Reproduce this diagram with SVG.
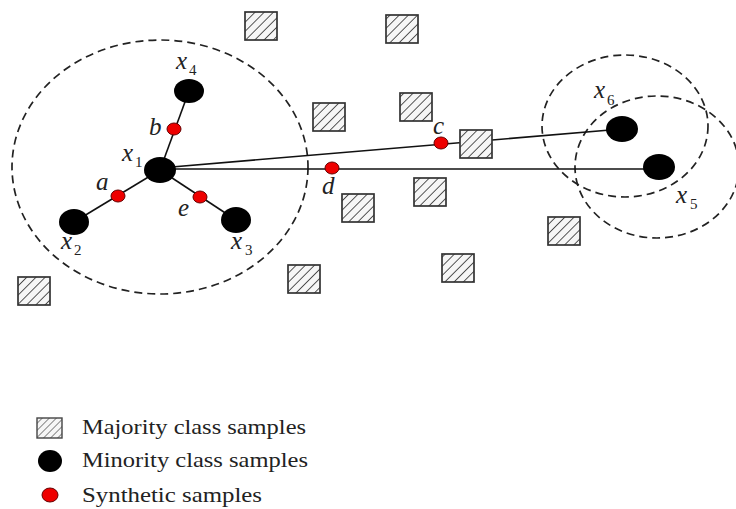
<svg xmlns="http://www.w3.org/2000/svg" width="736" height="509" viewBox="0 0 736 509">
<defs>
<pattern id="hatch" patternUnits="userSpaceOnUse" width="6.5" height="6.5" patternTransform="rotate(45)">
<rect width="6.5" height="6.5" fill="#f6f6f6"/>
<line x1="0" y1="0" x2="0" y2="6.5" stroke="#444" stroke-width="1.8"/>
</pattern>
<pattern id="hatchS" patternUnits="userSpaceOnUse" width="5" height="5" patternTransform="rotate(45)">
<rect width="5" height="5" fill="#f6f6f6"/>
<line x1="0" y1="0" x2="0" y2="5" stroke="#555" stroke-width="1.4"/>
</pattern>
</defs>
<style>
.maj{fill:url(#hatch);stroke:#333;stroke-width:1.7}
.min{fill:#000}
.syn{fill:#e00;stroke:#600;stroke-width:1}
.ring{fill:none;stroke:#222;stroke-width:1.7;stroke-dasharray:8 5}
.edge{stroke:#111;stroke-width:1.6;fill:none}
.lbl{font-family:"Liberation Serif",serif;font-style:italic;font-size:25px;fill:#222}
.sub{font-family:"Liberation Serif",serif;font-size:15px;fill:#222}
.leg{font-family:"Liberation Serif",serif;font-size:22px;fill:#222}
</style>
<rect width="736" height="509" fill="#fff"/>

<g id="neighborhoods">
<ellipse class="ring" cx="160" cy="167" rx="148" ry="127"/>
<ellipse class="ring" cx="625" cy="126" rx="83" ry="71"/>
<ellipse class="ring" cx="657" cy="167" rx="82" ry="71"/>
</g>

<g id="connectors">
<line class="edge" x1="160" y1="170" x2="189" y2="91"/>
<line class="edge" x1="160" y1="170" x2="74" y2="222"/>
<line class="edge" x1="160" y1="170" x2="236" y2="220"/>
<line class="edge" x1="160" y1="168" x2="622" y2="129"/>
<line class="edge" x1="160" y1="169" x2="659" y2="169"/>
</g>

<g id="majority">
<rect class="maj" x="245" y="12" width="32" height="28"/>
<rect class="maj" x="386" y="15" width="32" height="28"/>
<rect class="maj" x="313" y="103" width="32" height="28"/>
<rect class="maj" x="400" y="93" width="32" height="28"/>
<rect class="maj" x="460" y="130" width="32" height="28"/>
<rect class="maj" x="414" y="178" width="32" height="28"/>
<rect class="maj" x="342" y="194" width="32" height="28"/>
<rect class="maj" x="548" y="217" width="32" height="28"/>
<rect class="maj" x="442" y="254" width="32" height="28"/>
<rect class="maj" x="288" y="265" width="32" height="28"/>
<rect class="maj" x="18" y="277" width="32" height="28"/>
</g>

<g id="x1"><ellipse class="min" cx="160" cy="170" rx="16" ry="13"/><text class="lbl" x="122" y="161">x</text><text class="sub" x="135" y="167">1</text></g>
<g id="x2"><ellipse class="min" cx="74" cy="222" rx="15" ry="13"/><text class="lbl" x="61" y="249">x</text><text class="sub" x="74" y="255">2</text></g>
<g id="x3"><ellipse class="min" cx="236" cy="220" rx="15" ry="13"/><text class="lbl" x="231" y="249">x</text><text class="sub" x="245" y="255">3</text></g>
<g id="x4"><ellipse class="min" cx="189" cy="91" rx="15" ry="12"/><text class="lbl" x="176" y="69">x</text><text class="sub" x="189" y="75">4</text></g>
<g id="x5"><ellipse class="min" cx="659" cy="167" rx="16" ry="13"/><text class="lbl" x="676" y="203">x</text><text class="sub" x="690" y="209">5</text></g>
<g id="x6"><ellipse class="min" cx="622" cy="129" rx="16" ry="13"/><text class="lbl" x="594" y="98">x</text><text class="sub" x="607" y="105">6</text></g>

<g id="a"><ellipse class="syn" cx="118" cy="196" rx="7" ry="6"/><text class="lbl" x="96" y="190">a</text></g>
<g id="b"><ellipse class="syn" cx="174" cy="129" rx="7" ry="6"/><text class="lbl" x="149" y="135">b</text></g>
<g id="c"><ellipse class="syn" cx="441" cy="143" rx="7" ry="6"/><text class="lbl" x="433" y="134">c</text></g>
<g id="d"><ellipse class="syn" cx="332" cy="168" rx="7" ry="6"/><text class="lbl" x="322" y="194">d</text></g>
<g id="e"><ellipse class="syn" cx="200" cy="197" rx="7" ry="6"/><text class="lbl" x="178" y="216">e</text></g>

<g id="legend">
<rect x="37" y="418" width="25" height="20" fill="url(#hatchS)" stroke="#444" stroke-width="1.4"/>
<text class="leg" x="82" y="434" textLength="224" lengthAdjust="spacingAndGlyphs">Majority class samples</text>
<ellipse class="min" cx="50" cy="461" rx="12" ry="11"/>
<text class="leg" x="82" y="467" textLength="226" lengthAdjust="spacingAndGlyphs">Minority class samples</text>
<ellipse class="syn" cx="50" cy="495" rx="8" ry="7"/>
<text class="leg" x="82" y="502" textLength="180" lengthAdjust="spacingAndGlyphs">Synthetic samples</text>
</g>
</svg>
